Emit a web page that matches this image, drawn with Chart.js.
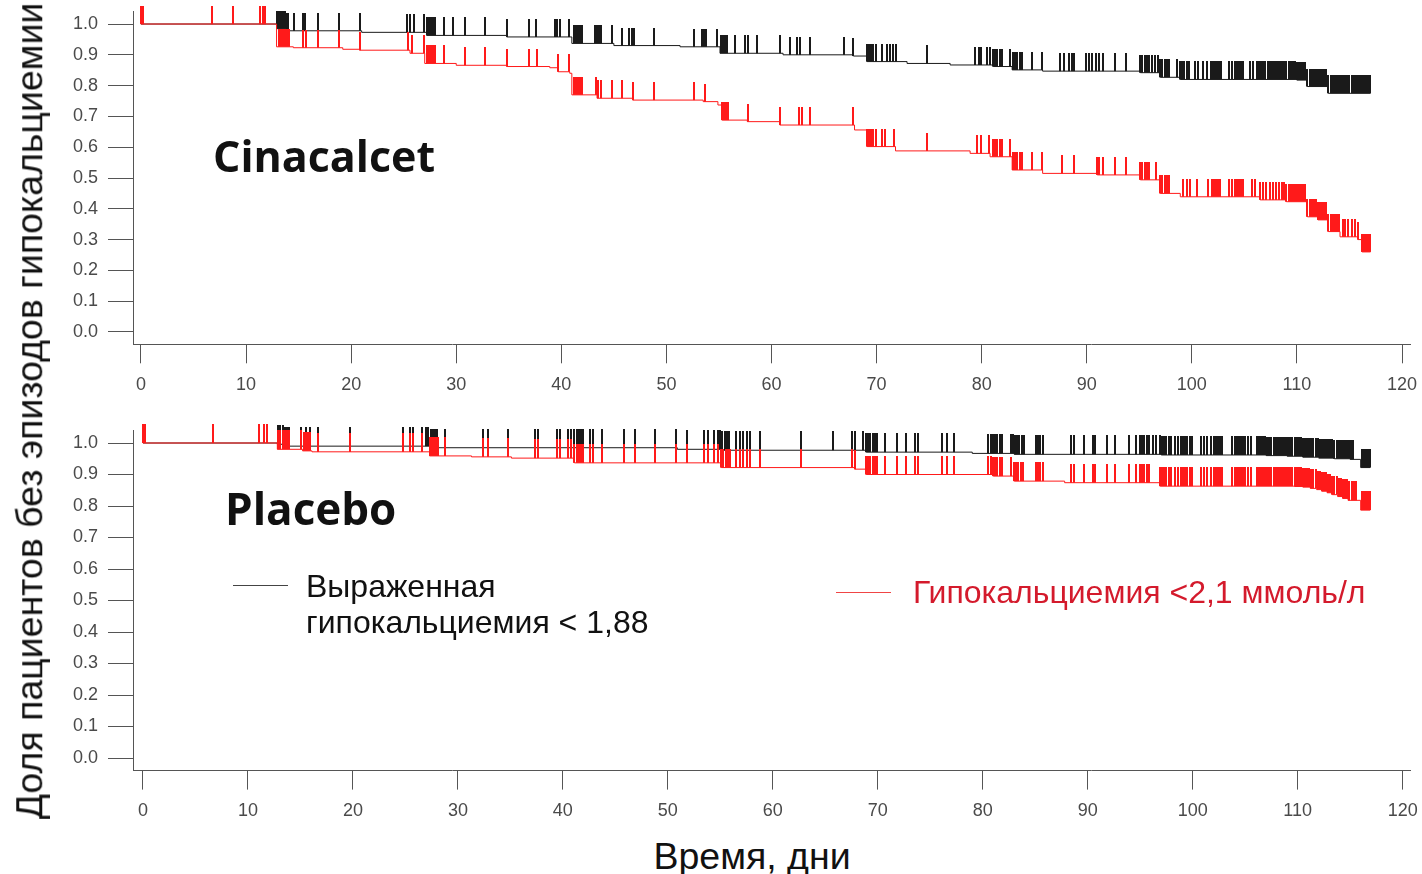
<!DOCTYPE html>
<html lang="ru">
<head>
<meta charset="utf-8">
<title>Cinacalcet / Placebo — гипокальциемия</title>
<script src="https://cdn.jsdelivr.net/npm/chart.js@4.4.1/dist/chart.umd.min.js"></script>
<style>
  html, body { margin: 0; padding: 0; background: #fff; }
  body {
    width: 1422px; height: 874px; position: relative; overflow: hidden;
    font-family: "Liberation Sans", Arial, sans-serif; color: #111;
  }
  .panel { position: absolute; left: 0; width: 1422px; }
  #topPanel { top: 0; height: 400px; }
  #bottomPanel { top: 416px; height: 410px; }
  .txt { position: absolute; white-space: nowrap; line-height: 1; }
  .arm { font-family: "Open Sans", Lato, sans-serif; font-weight: 700; font-size: 43px; color: #111; }
  .leg { font-size: 32px; }
  .legLine { position: absolute; height: 0; }
  #yTitle {
    left: 30px; top: 411px; font-size: 37.5px;
    transform: translate(-50%, -50%) rotate(-90deg);
  }
  #xTitle { left: 752px; top: 838px; font-size: 37.5px; transform: translateX(-50%); }
</style>
</head>
<body>

<div class="panel" id="topPanel"><canvas id="cinaChart"></canvas></div>
<div class="panel" id="bottomPanel"><canvas id="placChart"></canvas></div>

<div class="txt arm" style="left:213px; top:134px;">Cinacalcet</div>
<div class="txt arm" style="left:225px; top:486px; font-size:44px;">Placebo</div>

<div class="legLine" style="left:233px; top:585px; width:55px; border-top:1.5px solid #444;"></div>
<div class="txt leg" style="left:306px; top:570px;">Выраженная</div>
<div class="txt leg" style="left:306px; top:606px;">гипокальциемия &lt; 1,88</div>

<div class="legLine" style="left:836px; top:592px; width:55px; border-top:1.5px solid #f04545;"></div>
<div class="txt leg" style="left:913px; top:576px; color:#d41a2c;">Гипокальциемия &lt;2,1 ммоль/л</div>

<div class="txt" id="yTitle">Доля пациентов без эпизодов гипокальциемии</div>
<div class="txt" id="xTitle">Время, дни</div>

<script>
// axis ticks
const xTicks = [0, 10, 20, 30, 40, 50, 60, 70, 80, 90, 100, 110, 120];
const yTicks = [0, 0.1, 0.2, 0.3, 0.4, 0.5, 0.6, 0.7, 0.8, 0.9, 1.0];

// ---- Cinacalcet: severe hypocalcaemia (< 1,88) ----
const cinaSevereT = [0, 12.9, 13.9, 21.0, 27.2, 34.8, 41.0, 45.0, 51.3, 55.1, 61.1, 67.8, 69.1, 72.9,
  77.0, 81.1, 82.9, 85.8, 95.1, 97.0, 98.9, 110.0, 111.0, 113.0, 117.0];
const cinaSevereS = [1.0, 0.985, 0.978, 0.973, 0.963, 0.958, 0.937, 0.93, 0.926, 0.905, 0.9, 0.896, 0.878, 0.872,
  0.867, 0.862, 0.851, 0.847, 0.842, 0.827, 0.82, 0.818, 0.797, 0.775, 0.775];
const cinaSevereCensor = [0, 0.2,
  11.3, 11.6, 11.8, 12.9, 13.1, 13.3, 13.5, 13.7, 13.9, 14.0,
  14.6, 15.4, 15.6, 16.8, 18.8, 20.8, 25.3, 25.6, 26.0, 26.9,
  27.2, 27.4, 27.6, 27.8, 28.0, 28.8, 29.7, 30.8, 32.7, 34.8, 36.9, 37.6,
  39.4, 39.6, 39.9, 40.7, 41.2, 41.4, 41.6, 41.8, 42.0,
  43.2, 43.4, 43.6, 43.8, 44.8, 45.8, 46.4, 46.7, 46.9, 48.8,
  52.6, 53.4, 53.6, 53.8, 54.8, 55.2, 55.4, 55.6, 55.8, 56.5,
  57.5, 57.8, 58.6, 60.8, 61.8, 62.4, 62.7, 63.7, 66.9, 67.8,
  69.1, 69.3, 69.5, 69.7, 69.9, 70.5, 71.0, 71.3, 71.6, 71.8, 74.8,
  79.4, 79.7, 79.9, 80.5, 80.8, 81.1, 81.3, 81.5, 81.7, 81.9,
  82.7, 83.0, 83.2, 83.4, 83.6, 83.8, 84.8, 85.7,
  87.5, 87.8, 88.3, 88.6, 88.8, 89.9, 90.2, 90.5, 90.9, 91.2, 91.5, 92.7, 93.7,
  95.1, 95.3, 95.5, 95.7, 95.9, 96.2, 96.5, 96.8, 97.0, 97.2, 97.4, 97.6, 97.8,
  98.6, 98.9, 99.1, 99.3, 99.5, 99.7, 100.3, 100.6, 101.1, 101.4, 101.8,
  102.0, 102.2, 102.4, 102.6, 102.8, 103.5, 103.8, 104.1, 104.3, 104.5, 104.7, 104.9,
  105.5, 105.8, 106.2, 106.4, 106.6, 106.8,
  107.0, 107.2, 107.4, 107.6, 107.8, 108.0, 108.2, 108.4, 108.6, 108.8,
  109.0, 109.2, 109.4, 109.6, 109.8, 110.0, 110.2, 110.4, 110.6, 110.8,
  111.0, 111.2, 111.4, 111.6, 111.8, 112.0, 112.2, 112.4, 112.6, 112.8,
  113.0, 113.2, 113.4, 113.6, 113.8, 114.0, 114.2, 114.4, 114.6, 114.8,
  115.0, 115.2, 115.4, 115.6, 115.8, 116.0, 116.2, 116.4, 116.6, 116.8, 117.0];

// ---- Cinacalcet: hypocalcaemia < 2,1 ----
const cinaMildT = [0, 12.9, 14.5, 19.2, 20.8, 25.6, 27.0, 30.0, 34.8, 38.9, 39.7, 40.8, 41.0, 43.4,
  46.8, 53.5, 54.9, 55.3, 57.7, 60.8, 67.9, 69.1, 71.8, 78.9, 80.8, 82.9, 85.8, 91.0, 95.1, 97.0,
  98.9, 106.5, 109.0, 111.0, 112.0, 113.0, 114.1, 115.8, 116.2, 117.0];
const cinaMildS = [1.0, 0.926, 0.923, 0.918, 0.915, 0.905, 0.872, 0.866, 0.862, 0.858, 0.845, 0.84, 0.77, 0.759,
  0.753, 0.748, 0.737, 0.688, 0.683, 0.672, 0.656, 0.602, 0.588, 0.58, 0.569, 0.526, 0.515, 0.51, 0.494, 0.45,
  0.439, 0.429, 0.423, 0.374, 0.364, 0.326, 0.309, 0.3, 0.26, 0.26];
const cinaMildCensor = [0, 0.2, 6.8, 8.8, 11.3, 11.6, 11.8,
  13.1, 13.3, 13.5, 13.7, 13.9, 14.1, 15.4, 15.7, 16.8, 18.8, 20.8,
  25.4, 25.8, 26.9, 27.2, 27.4, 27.6, 27.8, 28.0, 28.8, 30.8, 32.7, 34.8, 36.9, 37.7,
  39.7, 40.7, 41.2, 41.4, 41.6, 41.8, 42.0, 43.3, 43.5, 43.8, 44.8, 45.8, 46.8, 48.8,
  52.6, 53.7, 55.3, 55.5, 55.7, 55.9, 57.8, 60.8, 62.6, 62.9, 63.7, 67.8,
  69.1, 69.3, 69.5, 69.7, 69.9, 70.5, 70.8, 71.7, 74.8,
  79.6, 79.9, 80.7, 81.1, 81.3, 81.5, 81.7, 81.9, 82.7, 83.0, 83.2, 83.4, 83.6, 83.8,
  84.8, 85.7, 87.6, 88.8, 91.0, 91.2, 91.5, 92.7, 93.7,
  95.1, 95.3, 95.5, 95.7, 95.9, 96.6, 97.0, 97.2, 97.4, 97.6, 97.8,
  99.2, 99.5, 99.8, 100.5, 101.5, 101.9, 102.1, 102.3, 102.5, 102.7,
  103.5, 103.8, 104.1, 104.3, 104.5, 104.7, 104.9, 105.7, 106.0, 106.5, 106.8,
  107.1, 107.4, 107.7, 108.0, 108.3, 108.6, 108.8, 109.0, 109.2, 109.4, 109.6, 109.8,
  110.0, 110.2, 110.4, 110.6, 110.8, 111.0, 111.2, 111.4, 111.6, 111.8,
  112.0, 112.2, 112.4, 112.6, 112.8, 113.0, 113.2, 113.4, 113.6, 113.8, 114.0,
  114.4, 114.6, 114.9, 115.2, 115.5, 115.8, 116.2, 116.4, 116.6, 116.8, 117.0];

// ---- Placebo: severe hypocalcaemia (< 1,88) ----
const placSevereT = [0, 12.8, 13.5, 27.3, 50.9, 55.1, 68.9, 79.0, 83.0, 97.0, 107.0, 109.0, 110.5,
  112.0, 113.5, 115.0, 116.0, 116.9];
const placSevereS = [1.0, 0.996, 0.99, 0.985, 0.98, 0.977, 0.971, 0.967, 0.964, 0.962, 0.96, 0.958, 0.955,
  0.952, 0.95, 0.948, 0.922, 0.922];
const placSevereCensor = [0, 0.2, 11.1, 11.5, 11.8, 12.9, 13.1, 13.3, 13.5, 13.7, 13.9,
  15.1, 15.5, 15.9, 16.7, 19.7, 24.8, 25.4, 25.7, 26.6,
  27.0, 27.2, 27.4, 27.6, 27.8, 28.0, 28.8, 32.4, 32.9, 34.8, 37.3, 37.6,
  39.4, 39.7, 40.5, 40.8, 41.1, 41.3, 41.5, 41.7, 41.9, 42.6, 42.9, 43.7,
  45.8, 46.9, 48.8, 50.8, 51.8, 53.4, 53.8, 54.4, 54.8,
  55.0, 55.2, 55.4, 55.6, 55.8, 56.5, 56.9, 57.2, 57.5, 57.8, 58.8,
  62.7, 65.7, 67.5, 67.8, 68.6, 68.9, 69.1, 69.3, 69.5, 69.7, 69.9,
  70.7, 71.8, 72.7, 73.5, 73.8, 76.1, 76.6, 77.3,
  80.5, 80.8, 81.0, 81.2, 81.4, 81.6, 81.8, 82.7, 82.9,
  83.1, 83.3, 83.5, 83.7, 83.9, 85.1, 85.3, 85.5, 85.7,
  88.4, 88.7, 89.6, 90.5, 90.7, 91.8, 92.6, 93.9, 94.6, 95.0,
  95.2, 95.4, 95.6, 95.8, 96.2, 96.5, 96.9, 97.1, 97.3, 97.5, 97.7, 97.9,
  98.3, 98.6, 98.9, 99.1, 99.3, 99.5, 99.7, 99.9,
  100.8, 101.1, 101.4, 101.7, 102.0, 102.2, 102.4, 102.6, 102.8, 103.7,
  104.0, 104.2, 104.4, 104.6, 104.8, 105.0, 105.3, 105.6,
  106.1, 106.3, 106.5, 106.7, 106.9,
  107.1, 107.3, 107.5, 107.7, 107.9, 108.1, 108.3, 108.5, 108.7, 108.9,
  109.1, 109.3, 109.5, 109.7, 109.9, 110.1, 110.3, 110.5, 110.7, 110.9,
  111.1, 111.3, 111.5, 111.7, 111.9, 112.1, 112.3, 112.5, 112.7, 112.9,
  113.1, 113.3, 113.5, 113.7, 113.9, 114.1, 114.3, 114.5, 114.7, 114.9,
  115.1, 115.3, 116.1, 116.3, 116.5, 116.7, 116.9];

// ---- Placebo: hypocalcaemia < 2,1 ----
const placMildT = [0, 12.8, 15.2, 16.1, 27.3, 31.3, 35.1, 41.1, 55.1, 67.8, 68.9, 81.0, 83.0, 87.8,
  96.9, 109.7, 110.5, 111.2, 111.8, 112.3, 112.8, 113.3, 113.8, 114.3, 114.8, 116.0, 116.9];
const placMildS = [1.0, 0.98, 0.975, 0.972, 0.959, 0.956, 0.952, 0.937, 0.922, 0.917, 0.9, 0.895, 0.879, 0.874,
  0.863, 0.862, 0.86, 0.856, 0.852, 0.847, 0.842, 0.836, 0.83, 0.824, 0.818, 0.787, 0.787];
const placMildCensor = [0, 0.2, 6.7, 11.1, 11.5, 11.8, 12.9, 13.1, 13.3, 13.5, 13.7, 13.9,
  15.1, 15.3, 15.5, 15.7, 15.9, 16.7, 19.7, 24.8, 25.4, 25.7, 26.6,
  27.3, 27.5, 27.7, 27.9, 28.1, 28.8, 32.4, 32.9, 34.8, 37.3, 37.6,
  39.4, 39.7, 40.5, 40.8, 41.1, 41.3, 41.5, 41.7, 41.9, 42.6, 42.9, 43.7,
  45.8, 46.9, 48.8, 50.8, 51.8, 53.4, 53.8, 54.4, 54.8,
  55.1, 55.3, 55.5, 55.7, 55.9, 56.5, 56.9, 57.2, 57.5, 57.8, 58.8,
  62.7, 67.5, 67.8, 68.9, 69.1, 69.3, 69.5, 69.7, 69.9,
  70.7, 71.8, 72.7, 73.5, 73.8, 76.1, 76.6, 77.3,
  80.5, 80.8, 81.0, 81.2, 81.4, 81.6, 81.8, 82.7,
  83.0, 83.2, 83.4, 83.6, 83.8, 85.1, 85.3, 85.5, 85.7,
  88.4, 88.7, 89.6, 90.5, 90.7, 91.8, 92.6, 93.9, 94.6, 95.0,
  95.2, 95.4, 95.6, 95.8, 96.9, 97.1, 97.3, 97.5, 97.7, 97.9,
  98.3, 98.6, 98.9, 99.1, 99.3, 99.5, 99.7, 99.9,
  100.8, 101.1, 101.4, 101.7, 102.0, 102.2, 102.4, 102.6, 102.8, 103.7,
  104.0, 104.2, 104.4, 104.6, 104.8, 105.0, 105.3, 105.6,
  106.1, 106.3, 106.5, 106.7, 106.9,
  107.1, 107.3, 107.5, 107.7, 107.9, 108.1, 108.3, 108.5, 108.7, 108.9,
  109.1, 109.3, 109.5, 109.7, 109.9, 110.1, 110.3, 110.5, 110.7, 110.9,
  111.1, 111.3, 111.5, 111.7, 111.9, 112.1, 112.3, 112.5, 112.7, 112.9,
  113.1, 113.3, 113.5, 113.7, 113.9, 114.1, 114.3, 114.5, 114.7, 114.9,
  115.2, 115.4, 115.6, 116.1, 116.3, 116.5, 116.7, 116.9];

const BLACK = '#1a1a1a';
const RED = '#ff1a1a';

Chart.defaults.font.family = "'Liberation Sans', Arial, sans-serif";

// survival value in force at time t (last step at or before t)
function stepValue(times, surv, t) {
    let v = surv[0];
    for (let i = 0; i < times.length; i++) {
        if (times[i] <= t) v = surv[i];
        else break;
    }
    return v;
}

// censor mark: vertical tick rising from the curve (lower half left transparent)
function censorMark(color, h) {
    const c = document.createElement('canvas');
    c.width = 2;
    c.height = h * 2;
    const g = c.getContext('2d');
    g.fillStyle = color;
    g.fillRect(0, 0, 2, h);
    return c;
}

function curve(times, surv, color) {
    return {
        data: times.map((t, i) => ({ x: t, y: surv[i] })),
        borderColor: color,
        borderWidth: 1,
        stepped: 'before',
        pointRadius: 0,
        fill: false
    };
}

function censors(times, surv, marks, color, h) {
    return {
        data: marks.map(t => ({ x: t, y: stepValue(times, surv, t) })),
        showLine: false,
        pointStyle: censorMark(color, h),
        pointRadius: 1,
        clip: false
    };
}

function makeKM(canvasId, cfg) {
    const axisColor = '#555';
    const tickFont = { size: 18 };
    return new Chart(document.getElementById(canvasId), {
        type: 'line',
        data: { datasets: cfg.datasets },
        options: {
            responsive: true,
            maintainAspectRatio: false,
            animation: false,
            events: [],
            layout: { padding: { left: 0, right: 12, top: cfg.padTop, bottom: 0 } },
            plugins: { legend: { display: false }, tooltip: { enabled: false } },
            scales: {
                x: {
                    type: 'linear',
                    min: cfg.xMin,
                    max: cfg.xMax,
                    afterFit: s => { s.height = cfg.xHeight; s.paddingLeft = 0; s.paddingRight = 0; },
                    afterBuildTicks: s => { s.ticks = xTicks.map(v => ({ value: v })); },
                    grid: { drawOnChartArea: false, drawTicks: true, tickLength: 19, color: axisColor },
                    border: { display: true, color: axisColor, width: 1 },
                    ticks: { padding: 11, color: '#4a4a4a', font: tickFont, maxRotation: 0, autoSkip: false,
                             callback: v => String(v) }
                },
                y: {
                    type: 'linear',
                    min: -0.04,
                    max: 1.04,
                    afterFit: s => { s.width = 133; s.paddingTop = 0; s.paddingBottom = 0; },
                    afterBuildTicks: s => { s.ticks = yTicks.map(v => ({ value: v })); },
                    grid: { drawOnChartArea: false, drawTicks: true, tickLength: 25, color: axisColor },
                    border: { display: true, color: axisColor, width: 1 },
                    ticks: { padding: 10, color: '#4a4a4a', font: tickFont, autoSkip: false,
                             callback: v => v.toFixed(1) }
                }
            }
        }
    });
}

// red drawn over black: earlier datasets end up on top
makeKM('cinaChart', {
    padTop: 11.7, xHeight: 55.7, xMin: -0.76, xMax: 120.76,
    datasets: [
        censors(cinaMildT, cinaMildS, cinaMildCensor, RED, 18),
        curve(cinaMildT, cinaMildS, RED),
        censors(cinaSevereT, cinaSevereS, cinaSevereCensor, BLACK, 18),
        curve(cinaSevereT, cinaSevereS, BLACK)
    ]
});

makeKM('placChart', {
    padTop: 14.4, xHeight: 55.4, xMin: -0.95, xMax: 120.7,
    datasets: [
        censors(placMildT, placMildS, placMildCensor, RED, 19),
        curve(placMildT, placMildS, RED),
        censors(placSevereT, placSevereS, placSevereCensor, BLACK, 19),
        curve(placSevereT, placSevereS, BLACK)
    ]
});
</script>
</body>
</html>
